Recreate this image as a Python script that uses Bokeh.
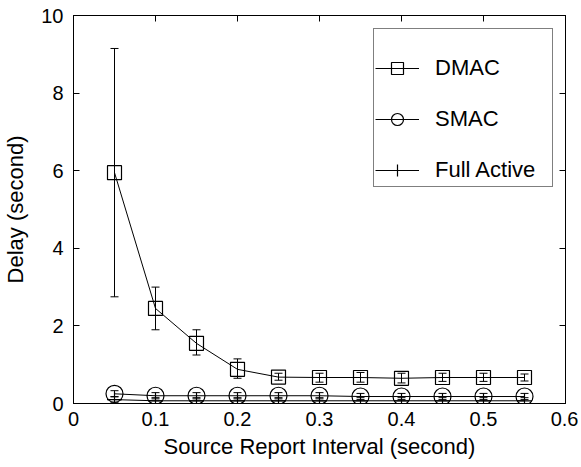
from bokeh.plotting import figure
from bokeh.models import (ColumnDataSource, Whisker, TeeHead, Legend, LegendItem,
                          LinearAxis, FixedTicker, Range1d)
from bokeh.embed import file_html
from bokeh.resources import INLINE

x = [0.05, 0.10, 0.15, 0.20, 0.25, 0.30, 0.35, 0.40, 0.45, 0.50, 0.55]
dmac = [5.95, 2.45, 1.55, 0.88, 0.68, 0.67, 0.67, 0.65, 0.67, 0.67, 0.67]
dmac_lo = [2.75, 1.90, 1.25, 0.65, 0.60, 0.55, 0.55, 0.53, 0.57, 0.57, 0.58]
dmac_hi = [9.15, 3.00, 1.90, 1.15, 0.78, 0.78, 0.80, 0.78, 0.78, 0.78, 0.76]
smac = [0.25, 0.20, 0.20, 0.20, 0.20, 0.20, 0.18, 0.18, 0.18, 0.18, 0.18]
smac_lo = [0.17, 0.12, 0.12, 0.12, 0.12, 0.12, 0.10, 0.10, 0.10, 0.10, 0.10]
smac_hi = [0.33, 0.28, 0.28, 0.28, 0.28, 0.28, 0.26, 0.26, 0.26, 0.26, 0.26]
full = [0.10, 0.07, 0.07, 0.07, 0.07, 0.07, 0.07, 0.07, 0.07, 0.07, 0.07]
full_lo = [0.02, 0.00, 0.00, 0.00, 0.00, 0.00, 0.00, 0.00, 0.00, 0.00, 0.00]
full_hi = [0.18, 0.15, 0.15, 0.15, 0.15, 0.15, 0.15, 0.15, 0.15, 0.15, 0.15]
x_ticks = [0, 0.1, 0.2, 0.3, 0.4, 0.5, 0.6]
y_ticks = [0, 2, 4, 6, 8, 10]

FONT = "Liberation Sans"
FS = "20px"
FL = "22px"

p = figure(width=578, height=462, output_backend="svg", toolbar_location=None,
           x_range=Range1d(0, 0.6), y_range=Range1d(0, 10),
           min_border_left=73, min_border_right=13, min_border_top=15, min_border_bottom=59)
p.grid.visible = False
p.outline_line_color = "black"
p.outline_line_width = 1
p.background_fill_color = "white"
p.border_fill_color = "white"

for ax in (p.xaxis[0], p.yaxis[0]):
    ax.major_tick_in = 6
    ax.major_tick_out = 0
    ax.minor_tick_line_color = None
    ax.major_label_text_font = FONT
    ax.major_label_text_font_size = FS
    ax.major_label_text_color = "black"
    ax.axis_label_text_font = FONT
    ax.axis_label_text_font_size = FL
    ax.axis_label_text_font_style = "normal"
    ax.axis_label_text_color = "black"
    ax.axis_line_color = "black"
    ax.major_tick_line_color = "black"

p.xaxis[0].ticker = FixedTicker(ticks=x_ticks)
p.yaxis[0].ticker = FixedTicker(ticks=y_ticks)
p.xaxis[0].major_label_overrides = {0: "0", 0.1: "0.1", 0.2: "0.2", 0.3: "0.3", 0.4: "0.4", 0.5: "0.5", 0.6: "0.6"}
p.xaxis[0].axis_label = "Source Report Interval (second)"
p.yaxis[0].axis_label = "Delay (second)"
p.xaxis[0].major_label_standoff = 8
p.xaxis[0].axis_label_standoff = 5
p.yaxis[0].major_label_standoff = 10
p.yaxis[0].axis_label_standoff = 10

top = LinearAxis(ticker=FixedTicker(ticks=x_ticks), major_tick_in=6, major_tick_out=0,
                 minor_tick_line_color=None, major_label_text_font_size="0px",
                 major_label_text_color=None)
right = LinearAxis(ticker=FixedTicker(ticks=y_ticks), major_tick_in=6, major_tick_out=0,
                   minor_tick_line_color=None, major_label_text_font_size="0px",
                   major_label_text_color=None)
p.add_layout(top, "above")
p.add_layout(right, "right")

src = ColumnDataSource(dict(x=x, dmac=dmac, dlo=dmac_lo, dhi=dmac_hi,
                            smac=smac, slo=smac_lo, shi=smac_hi,
                            full=full, flo=full_lo, fhi=full_hi))

def whisk(lo, hi):
    w = Whisker(source=src, base="x", lower=lo, upper=hi, line_color="black", line_width=1,
                upper_head=TeeHead(size=8, line_color="black", line_width=1),
                lower_head=TeeHead(size=8, line_color="black", line_width=1))
    p.add_layout(w)

whisk("dlo", "dhi")
whisk("slo", "shi")
whisk("flo", "fhi")

l1 = p.line("x", "dmac", source=src, line_color="black", line_width=1)
m1 = p.scatter("x", "dmac", source=src, marker="square", size=14, fill_color=None,
               line_color="black", line_width=1.2)
l2 = p.line("x", "smac", source=src, line_color="black", line_width=1)
m2 = p.scatter("x", "smac", source=src, marker="circle", size=17, fill_color=None,
               line_color="black", line_width=1.2)
l3 = p.line("x", "full", source=src, line_color="black", line_width=1)
m3 = p.scatter("x", "full", source=src, marker="cross", size=15, fill_color=None,
               line_color="black", line_width=1.2)

legend = Legend(items=[LegendItem(label="DMAC", renderers=[l1, m1]),
                       LegendItem(label="SMAC", renderers=[l2, m2]),
                       LegendItem(label="Full Active", renderers=[l3, m3])],
                location=(300, 216), orientation="vertical")
legend.title = " "
legend.title_text_font_size = "14px"
legend.title_standoff = 7
legend.label_text_font = FONT
legend.label_text_font_size = FL
legend.label_text_color = "black"
legend.glyph_width = 44
legend.glyph_height = 30
legend.label_height = 30
legend.label_width = 116
legend.spacing = 21
legend.padding = 1
legend.margin = 0
legend.label_standoff = 16
legend.border_line_color = "black"
legend.border_line_width = 1
legend.background_fill_alpha = 1
legend.item_background_fill_alpha = 0
p.add_layout(legend, "center")

open("out.html", "w").write(file_html(p, INLINE))
